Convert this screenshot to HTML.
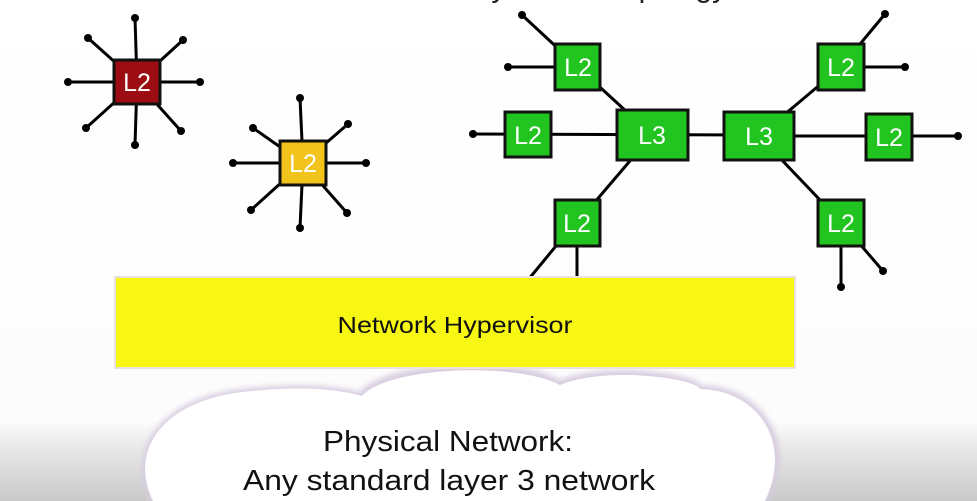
<!DOCTYPE html>
<html><head><meta charset="utf-8"><style>
html,body{margin:0;padding:0;background:#fff;}
svg{display:block;}
text{font-family:"Liberation Sans",sans-serif;}
</style></head><body>
<svg width="977" height="501" viewBox="0 0 977 501" xmlns="http://www.w3.org/2000/svg">
<defs>
<linearGradient id="bg" x1="0" y1="0" x2="0" y2="1">
<stop offset="0" stop-color="#ffffff"/><stop offset="0.84" stop-color="#fcfcfc"/><stop offset="0.9" stop-color="#e6e6e6"/><stop offset="1" stop-color="#c9c9c9"/>
</linearGradient>
<filter id="sh" x="-10%" y="-10%" width="120%" height="120%"><feGaussianBlur stdDeviation="3"/></filter>
</defs>
<rect width="977" height="501" fill="url(#bg)"/>
<text x="560" y="-3" font-size="30" text-anchor="middle" fill="#222">Arbitrary Virtual Topology</text>

<g>
<path d="M150,501 C125,450 160,395 250,388 C290,384 330,384 360,392 C385,360 520,355 560,380 C610,360 700,375 700,385 C760,385 800,440 768,501 Z" fill="#d8cde0" filter="url(#sh)"/>
<path d="M153,501 C128,450 163,398 252,391 C292,387 330,387 362,396 C388,366 518,362 560,385 C605,366 695,378 700,389 C756,390 794,440 765,501 Z" fill="#fff"/>
</g>
<text x="448" y="451" font-size="29" text-anchor="middle" fill="#111" textLength="250" lengthAdjust="spacingAndGlyphs">Physical Network:</text>
<text x="449" y="490" font-size="29" text-anchor="middle" fill="#111" textLength="412" lengthAdjust="spacingAndGlyphs">Any standard layer 3 network</text>

<g stroke="#000" stroke-width="3" fill="none">
<line x1="137" y1="82" x2="135" y2="18"/><line x1="137" y1="82" x2="135" y2="145"/>
<line x1="137" y1="82" x2="68" y2="82"/><line x1="137" y1="82" x2="200" y2="82"/>
<line x1="137" y1="82" x2="88" y2="38"/><line x1="137" y1="82" x2="183" y2="40"/>
<line x1="137" y1="82" x2="86" y2="128"/><line x1="137" y1="82" x2="181" y2="131"/>
<line x1="303" y1="163" x2="300" y2="98"/><line x1="303" y1="163" x2="300" y2="228"/>
<line x1="303" y1="163" x2="233" y2="163"/><line x1="303" y1="163" x2="366" y2="163"/>
<line x1="303" y1="163" x2="253" y2="128"/><line x1="303" y1="163" x2="348" y2="124"/>
<line x1="303" y1="163" x2="251" y2="210"/><line x1="303" y1="163" x2="347" y2="213"/>
<line x1="578" y1="67" x2="508" y2="67"/><line x1="578" y1="67" x2="522" y2="15"/>
<line x1="578" y1="67" x2="652" y2="135"/>
<line x1="473" y1="134" x2="759" y2="135"/>
<line x1="759" y1="136" x2="958" y2="136"/>
<line x1="841" y1="67" x2="905" y2="67"/><line x1="841" y1="67" x2="885" y2="14"/>
<line x1="841" y1="67" x2="759" y2="136"/>
<line x1="652" y1="135" x2="577" y2="223"/>
<line x1="577" y1="223" x2="577" y2="280"/><line x1="565" y1="235" x2="528" y2="280"/>
<line x1="759" y1="136" x2="841" y2="222"/>
<line x1="841" y1="222" x2="841" y2="287"/><line x1="841" y1="222" x2="883" y2="271"/>
</g>
<g fill="#000">
<circle cx="135" cy="18" r="4"/><circle cx="135" cy="145" r="4"/><circle cx="68" cy="82" r="4"/><circle cx="200" cy="82" r="4"/>
<circle cx="88" cy="38" r="4"/><circle cx="183" cy="40" r="4"/><circle cx="86" cy="128" r="4"/><circle cx="181" cy="131" r="4"/>
<circle cx="300" cy="98" r="4"/><circle cx="300" cy="228" r="4"/><circle cx="233" cy="163" r="4"/><circle cx="366" cy="163" r="4"/>
<circle cx="253" cy="128" r="4"/><circle cx="348" cy="124" r="4"/><circle cx="251" cy="210" r="4"/><circle cx="347" cy="213" r="4"/>
<circle cx="508" cy="67" r="4"/><circle cx="522" cy="15" r="4"/><circle cx="473" cy="134" r="4"/>
<circle cx="905" cy="67" r="4"/><circle cx="885" cy="14" r="4"/><circle cx="958" cy="136" r="4"/>
<circle cx="841" cy="287" r="4"/><circle cx="883" cy="271" r="4"/>
</g>
<g stroke="#111" stroke-width="3">
<rect x="114" y="60" width="46" height="44" fill="#9b0d12"/>
<rect x="280" y="141" width="46" height="44" fill="#f2c31a"/>
<rect x="555" y="44" width="45" height="46" fill="#22c41f"/>
<rect x="505" y="112" width="46" height="45" fill="#22c41f"/>
<rect x="617" y="110" width="71" height="50" fill="#22c41f"/>
<rect x="724" y="112" width="70" height="48" fill="#22c41f"/>
<rect x="818" y="44" width="46" height="46" fill="#22c41f"/>
<rect x="866" y="114" width="46" height="46" fill="#22c41f"/>
<rect x="555" y="200" width="45" height="46" fill="#22c41f"/>
<rect x="818" y="200" width="46" height="46" fill="#22c41f"/>
</g>
<g fill="#fff" font-size="25" text-anchor="middle">
<text x="137" y="91">L2</text><text x="303" y="172">L2</text>
<text x="578" y="76">L2</text><text x="528" y="144">L2</text>
<text x="652" y="144">L3</text><text x="759" y="145">L3</text>
<text x="841" y="76">L2</text><text x="889" y="146">L2</text>
<text x="577" y="232">L2</text><text x="841" y="232">L2</text>
</g>

<rect x="115" y="277" width="680" height="91" fill="#f8f714" stroke="#e8e3d8" stroke-width="2"/>
<text x="455" y="333" font-size="23" text-anchor="middle" fill="#111" textLength="235" lengthAdjust="spacingAndGlyphs">Network Hypervisor</text>
</svg>
</body></html>
